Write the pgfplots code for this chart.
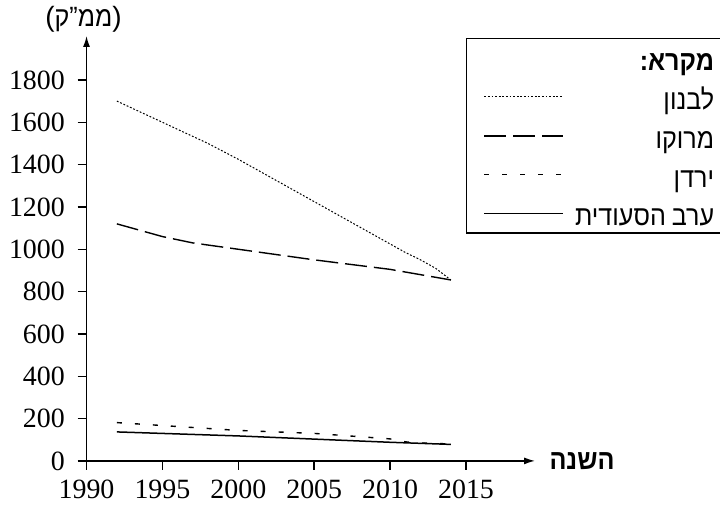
\documentclass[border=0pt]{standalone}
\usepackage{fontspec}
\setmainfont{Liberation Serif}
\newfontfamily\hebfont[Script=Hebrew, FakeStretch=0.9]{Liberation Sans}
\newfontfamily\plainsans{Liberation Sans}
\TeXXeTstate=1
\usepackage{pgfplots}
\pgfplotsset{compat=1.18}
\usetikzlibrary{arrows.meta}
\newcommand{\legtxt}[1]{\hbox to 69.5bp{\hfill\rule[-4.4bp]{0pt}{18.75bp}\hebfont\beginR #1\endR}}
\newcommand{\tl}[1]{{\fontsize{14}{17}\selectfont #1}}
\begin{document}
\fontsize{14}{17}\selectfont
\begin{tikzpicture}[font=\fontsize{14}{17}\selectfont]
\begin{axis}[
  scale only axis, width=224.3bp, height=212.5bp,
  xmin=1990, xmax=2019.55, ymin=0, ymax=2008,
  axis lines=left,
  axis line style={line width=0.75bp},
  every outer x axis line/.append style={-{Latex[length=5.5bp,width=3.5bp]}},
  every outer y axis line/.append style={-{Latex[length=5.5bp,width=3.5bp]}},
  xtick={1990,1995,2000,2005,2010,2015},
  xticklabels={\tl{1990},\tl{1995},\tl{2000},\tl{2005},\tl{2010},\tl{2015}},
  ytick={0,200,400,600,800,1000,1200,1400,1600,1800},
  yticklabels={\tl{0},\tl{200},\tl{400},\tl{600},\tl{800},\tl{1000},\tl{1200},\tl{1400},\tl{1600},\tl{1800}},
  tick align=outside, major tick length=4.5bp,
  tick style={line width=0.75bp, black},
  yticklabel style={xshift=-1.5bp},
  clip=false,
  legend style={at={(0.846,0.995)}, anchor=north west, draw=black, line width=0.6bp,
    inner xsep=8.5bp, inner ysep=1.5bp, nodes={inner sep=0pt}, row sep=3bp,
    font=\fontsize{14}{17}\selectfont,
    /tikz/every odd column/.append style={column sep=5.5bp}},
  legend image code/.code={\draw[#1] (0bp,0bp) -- (39.5bp,0bp);},
]
\addlegendimage{empty legend}
\addlegendentry{\legtxt{\bfseries מקרא:}}
\addplot[black, line width=0.5bp, dash pattern=on 0.9bp off 0.9bp] coordinates {
(1992,1700) (1995,1600) (1998,1500) (2000,1425) (2005,1225) (2010,1025) (2011,985) (2012,950) (2013,910) (2014,855)};
\addlegendentry{\legtxt{לבנון}}
\addplot[black, line width=0.7bp, dash pattern=on 11bp off 3.5bp] coordinates {
(1992,1120) (1995,1060) (1997,1030) (2000,1000) (2005,950) (2010,905) (2014,855)};
\addlegendentry{\legtxt{מרוקו}}
\addplot[black, line width=0.7bp, dash pattern=on 2.5bp off 6.5bp] coordinates {
(1992,181) (2000,144) (2005,130) (2010,104) (2011,90) (2012,85) (2014,80)};
\addlegendentry{\legtxt{ירדן}}
\addplot[black, line width=0.75bp] coordinates {
(1992,137) (2000,118) (2005,103) (2010,88) (2014,78)};
\addlegendentry{\legtxt{ערב הסעודית}}
\node[font=\fontsize{14}{17}\selectfont] at (axis cs:1989.8,2088) {{\plainsans(}{\hebfont\beginR ממ”ק\endR}{\plainsans)}};
\node[font=\fontsize{14}{17}\selectfont\hebfont\bfseries] at (axis cs:2022.64,0) {\beginR השנה\endR};
\coordinate (bbsw) at (axis cs:1984.30,-222);
\coordinate (bbne) at (axis cs:2031.73,2177.8);
\end{axis}
\pgfresetboundingbox
\path[use as bounding box] (bbsw) rectangle (bbne);
\end{tikzpicture}
\end{document}
